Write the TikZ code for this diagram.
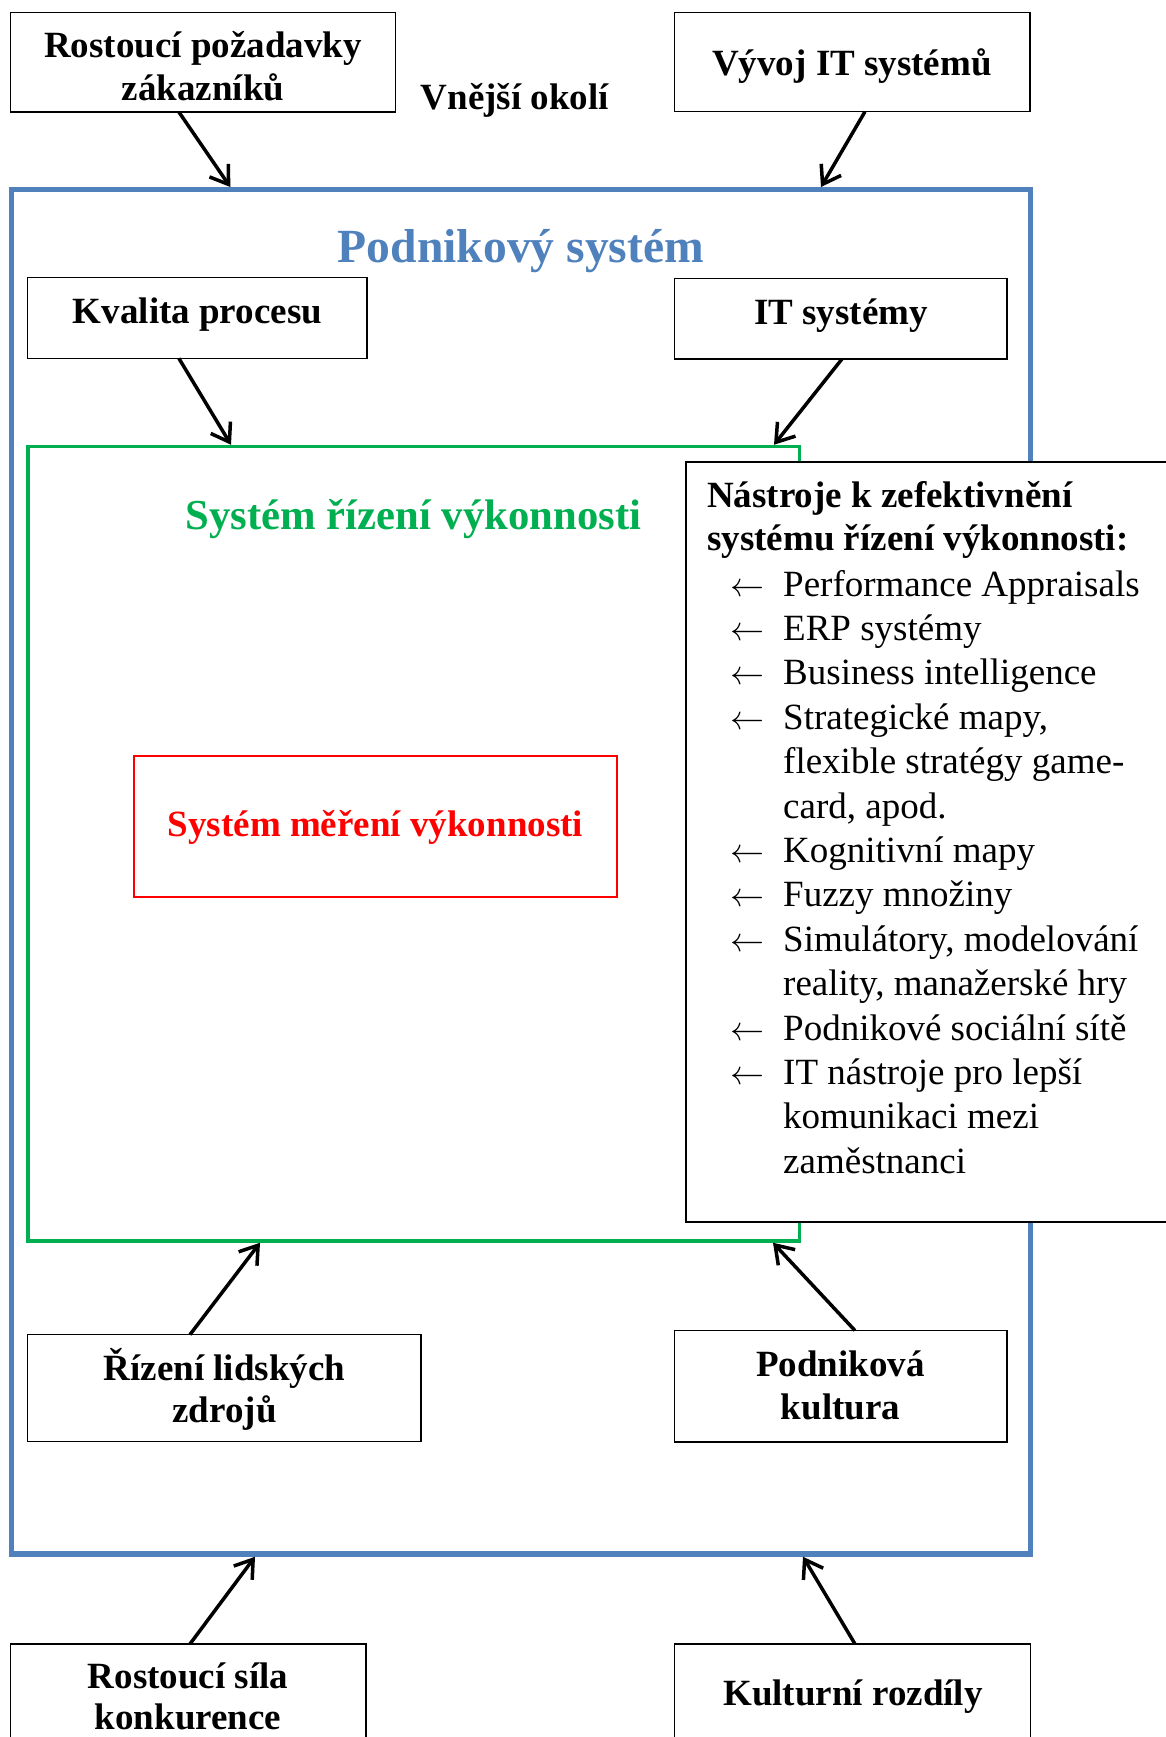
\RequirePackage{fix-cm}
\documentclass[tikz,border=0pt]{standalone}
\usepackage{fontspec}
\setmainfont{Liberation Serif}
\usetikzlibrary{arrows.meta,calc}
\definecolor{sysblue}{HTML}{4F81BD}
\definecolor{sysgreen}{HTML}{00B050}
\definecolor{sysred}{HTML}{FF0000}

% one line of the tools list, with or without a leading arrow
\newcommand\toolitem[3]{%
  \node[tooltxt, font=\fontsize{34}{40}\selectfont] (#1a) at (730,{596+44.4*#2}) {$\leftarrow$};
  \node[tooltxt] (#1) at (783,{596+44.4*#2}) {#3};}
\newcommand\toolcont[3]{%
  \node[tooltxt] (#1) at (783,{596+44.4*#2}) {#3};}

\begin{document}
\begin{tikzpicture}[x=1pt,y=-1pt,
  frame/.style={draw, inner sep=0pt, outer sep=0pt, anchor=north west},
  box/.style={frame, line width=1.5pt, fill=white},
  lbl/.style={inner sep=0pt, anchor=base, font=\bfseries\fontsize{37}{42}\selectfont},
  tooltxt/.style={inner sep=0pt, anchor=base west, font=\fontsize{37}{44}\selectfont},
  flow/.style={line width=3.5pt, -{Straight Barb[length=17pt,width=23pt]}},
]
\useasboundingbox (0,0) rectangle (1166,1737);
\clip (0,0) rectangle (1166,1737);
\fill[white] (0,0) rectangle (1166,1737);

% enterprise system, performance management system, measurement system
\node[frame, draw=sysblue, line width=5.5pt, minimum width=1019.2pt, minimum height=1364.5pt] (podnik) at (11.3,189.5) {};
\node[frame, draw=sysgreen, line width=3.5pt, minimum width=771.5pt, minimum height=794.5pt] (srv) at (28,446.5) {};
\node[frame, draw=sysred, line width=1.5pt, minimum width=483pt, minimum height=141pt] (smv) at (134,756) {};

\node[lbl, text=sysblue, font=\bfseries\fontsize{47.6}{54}\selectfont] (podnikT) at (521,262) {Podnikový systém};
\node[lbl, text=sysgreen, font=\bfseries\fontsize{42.7}{49}\selectfont] (srvT) at (413.5,529) {Systém řízení výkonnosti};
\node[lbl, text=sysred] (smvT) at (375.5,836) {Systém měření výkonnosti};

% tools box
\node[box, minimum width=504pt, minimum height=760pt] (nastroje) at (686,462) {};
\node[tooltxt, font=\bfseries\fontsize{37}{44}\selectfont] (nh1) at (707,507) {Nástroje k zefektivnění};
\node[tooltxt, font=\bfseries\fontsize{37}{44}\selectfont] (nh2) at (707,550) {systému řízení výkonnosti:};
\toolitem{t0}{0}{Performance Appraisals}
\toolitem{t1}{1}{ERP systémy}
\toolitem{t2}{2}{Business intelligence}
\toolitem{t3}{3}{Strategické mapy,}
\toolcont{t4}{4}{flexible stratégy game-}
\toolcont{t5}{5}{card, apod.}
\toolitem{t6}{6}{Kognitivní mapy}
\toolitem{t7}{7}{Fuzzy množiny}
\toolitem{t8}{8}{Simulátory, modelování}
\toolcont{t9}{9}{reality, manažerské hry}
\toolitem{t10}{10}{Podnikové sociální sítě}
\toolitem{t11}{11}{IT nástroje pro lepší}
\toolcont{t12}{12}{komunikaci mezi}
\toolcont{t13}{13}{zaměstnanci}

% outer environment
\node[box, minimum width=384.8pt, minimum height=99.7pt] (rpz) at (10.5,12.3) {};
\node[lbl] (rpz1) at (203,58) {Rostoucí požadavky};
\node[lbl] (rpz2) at (203,100) {zákazníků};
\node[lbl] (okoli) at (515,110) {Vnější okolí};
\node[box, minimum width=355.5pt, minimum height=99.4pt] (vit) at (674.7,12.3) {};
\node[lbl] (vitT) at (852,75) {Vývoj IT systémů};

% inside the enterprise system
\node[box, minimum width=339.3pt, minimum height=80.6pt] (kp) at (27.7,277.7) {};
\node[lbl] (kpT) at (197.5,323) {Kvalita procesu};
\node[box, minimum width=332.5pt, minimum height=80.7pt] (its) at (674.7,278.3) {};
\node[lbl] (itsT) at (841,324.5) {IT systémy};
\node[box, minimum width=393.4pt, minimum height=106.8pt] (rlz) at (27.6,1334.6) {};
\node[lbl] (rlz1) at (224.5,1380) {Řízení lidských};
\node[lbl] (rlz2) at (224.5,1422) {zdrojů};
\node[box, minimum width=332.5pt, minimum height=111.5pt] (pk) at (674.7,1330.5) {};
\node[lbl] (pk1) at (840.5,1376) {Podniková};
\node[lbl] (pk2) at (840.5,1419) {kultura};

% outer environment, bottom
\node[box, minimum width=355.5pt, minimum height=110pt] (rsk) at (10.7,1644) {};
\node[lbl] (rsk1) at (188,1688) {Rostoucí síla};
\node[lbl] (rsk2) at (188,1729) {konkurence};
\node[box, minimum width=355.6pt, minimum height=110pt] (kr) at (674.7,1644) {};
\node[lbl] (krT) at (853,1705) {Kulturní rozdíly};

% influences
\draw[flow] ($(rpz.south)+(-24,0)$) -- ($(podnik.north west)+(219,-2.5)$);
\draw[flow] ($(vit.south)+(12.5,0)$) -- ($(podnik.north west)+(809.7,-2.5)$);
\draw[flow] ($(kp.south)+(-18.5,0)$) -- ($(srv.north west)+(203,-1.75)$);
\draw[flow] ($(its.south)+(1,0)$) -- ($(srv.north west)+(746,-1.75)$);
\draw[flow] ($(rlz.north)+(-34.3,0)$) -- ($(srv.south west)+(232,1.75)$);
\draw[flow] ($(pk.north)+(14,0)$) -- ($(srv.south west)+(745,1.75)$);
\draw[flow] ($(rsk.north)+(1.5,0)$) -- ($(podnik.south west)+(243.7,2.75)$);
\draw[flow] ($(kr.north)+(2.5,0)$) -- ($(podnik.south west)+(791.7,2.75)$);
\end{tikzpicture}
\end{document}
